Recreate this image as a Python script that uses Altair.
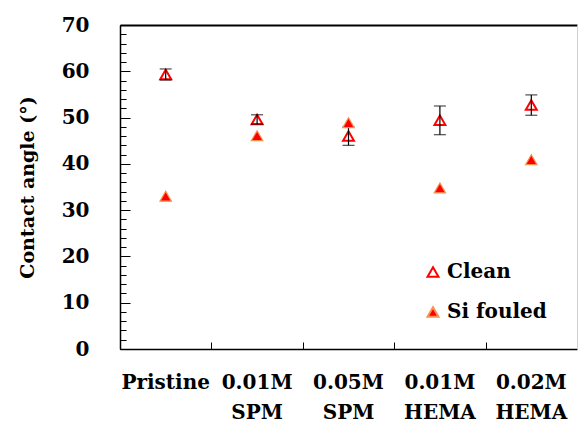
import altair as alt
import pandas as pd

categories = ["Pristine", "0.01M SPM", "0.05M SPM", "0.01M HEMA", "0.02M HEMA"]
clean = [59.3, 49.6, 46.0, 49.4, 52.7]
clean_err = [1.2, 1.0, 2.0, 3.1, 2.2]
fouled = [33.0, 46.1, 48.9, 34.8, 40.9]
series_names = ["Clean", "Si fouled"]
y_major = list(range(0, 71, 10))
y_minor = list(range(0, 71, 2))

clean_df = pd.DataFrame({"cat": categories, "series": "Clean", "value": clean, "err": clean_err})
clean_df["lo"] = clean_df["value"] - clean_df["err"]
clean_df["hi"] = clean_df["value"] + clean_df["err"]
fouled_df = pd.DataFrame({"cat": categories, "series": "Si fouled", "value": fouled})

FONT = "DejaVu Serif"
W, H = 457, 324

x_scale = alt.Scale(type="band", domain=categories, paddingInner=0, paddingOuter=0)
y_scale = alt.Scale(domain=[0, 70], nice=False, zero=True)
fill_scale = alt.Scale(domain=series_names, range=["transparent", "#FF0000"])
stroke_scale = alt.Scale(domain=series_names, range=["#FF0000", "#F5934F"])

legend = alt.Legend(
    title=None, orient="none", legendX=303, legendY=237,
    symbolType="triangle-up", symbolSize=120, symbolStrokeWidth=2,
    labelFont=FONT, labelFontSize=20, labelFontWeight="bold", labelColor="black",
    labelOffset=4, rowPadding=20, padding=0,
)

x_main = alt.Axis(
    orient="bottom", title=None, labelExpr="split(datum.label, ' ')", labelAngle=0,
    labelFont=FONT, labelFontSize=20, labelFontWeight="bold", labelColor="black",
    ticks=False, tickSize=0, labelPadding=23, labelLineHeight=30,
    domainColor="black", domainWidth=1.5, grid=False,
)
y_main = alt.Axis(
    orient="left", title="Contact angle (°)", values=y_major,
    labelFont=FONT, labelFontSize=20, labelFontWeight="bold", labelColor="black",
    titleFont=FONT, titleFontSize=19, titleFontWeight="bold", titleColor="black",
    titlePadding=24, ticks=False, tickSize=0, labelPadding=31,
    domainColor="black", domainWidth=1.5, grid=False,
)
# inward ticks between the groups, drawn along the bottom edge
x_ticks = alt.Axis(
    orient="top", offset=-H, title=None, labels=False, domain=False,
    tickBand="extent", tickSize=7, tickColor="black", tickWidth=1, grid=False,
)
# top frame line: a bottom-oriented axis moved up to the top edge
x_top_frame = alt.Axis(
    orient="bottom", offset=-H, title=None, labels=False, ticks=False,
    domain=True, domainColor="black", domainWidth=2, grid=False,
)
# faint right edge: a left-oriented axis moved to the right edge
y_right_frame = alt.Axis(
    orient="left", offset=-W, title=None, labels=False, ticks=False,
    domain=True, domainColor="#d0d0d0", domainWidth=1, grid=False,
)
y_minor_ax = alt.Axis(
    orient="right", offset=-W, title=None, labels=False, domain=False,
    values=y_minor, tickSize=6, tickColor="black", tickWidth=1, grid=False,
)
y_major_ax = alt.Axis(
    orient="right", offset=-W, title=None, labels=False, domain=False,
    values=y_major, tickSize=10, tickColor="black", tickWidth=1, grid=False,
)

clean_pts = alt.Chart(clean_df).mark_point(
    shape="triangle-up", size=120, strokeWidth=2, filled=True, opacity=1
).encode(
    x=alt.X("cat:N", scale=x_scale, axis=None, sort=categories),
    y=alt.Y("value:Q", scale=y_scale, axis=y_right_frame),
    fill=alt.Fill("series:N", scale=fill_scale, legend=legend),
    stroke=alt.Stroke("series:N", scale=stroke_scale, legend=legend),
)

err_rule = alt.Chart(clean_df).mark_rule(color="black", strokeWidth=1.2).encode(
    x=alt.X("cat:N", scale=x_scale, axis=x_ticks, sort=categories),
    y=alt.Y("lo:Q", scale=y_scale, axis=y_minor_ax),
    y2="hi:Q",
)

caps = alt.Chart(clean_df).transform_fold(["lo", "hi"], as_=["k", "v"]).mark_tick(
    color="black", size=12, thickness=1.2
).encode(
    x=alt.X("cat:N", scale=x_scale, axis=x_top_frame, sort=categories),
    y=alt.Y("v:Q", scale=y_scale, axis=y_major_ax),
)

fouled_pts = alt.Chart(fouled_df).mark_point(
    shape="triangle-up", size=130, strokeWidth=1.2, filled=True, opacity=1
).encode(
    x=alt.X("cat:N", scale=x_scale, axis=x_main, sort=categories),
    y=alt.Y("value:Q", scale=y_scale, axis=y_main),
    fill=alt.Fill("series:N", scale=fill_scale, legend=legend),
    stroke=alt.Stroke("series:N", scale=stroke_scale, legend=legend),
)

chart = alt.layer(clean_pts, err_rule, caps, fouled_pts).resolve_axis(
    x="independent", y="independent"
).properties(
    width=W, height=H,
    padding={"left": 120, "top": 25, "right": 1, "bottom": 78},
    autosize="none",
).configure_view(stroke=None)

chart.save("out.html", embed_options={"renderer": "svg", "actions": False})
